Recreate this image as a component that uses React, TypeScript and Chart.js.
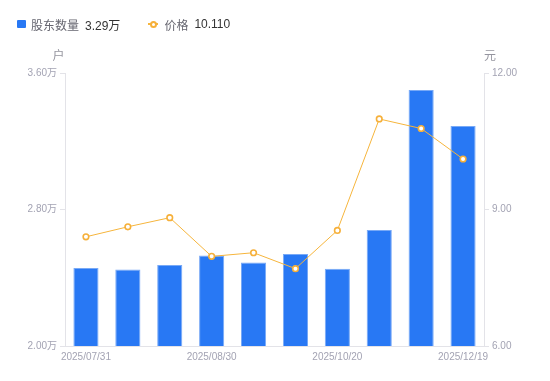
import React, { useEffect, useRef } from "react";
import { Chart, registerables } from "chart.js";

Chart.register(...registerables);

const categories = [
  "2025/07/31", "2025/08/10", "2025/08/20", "2025/08/30", "2025/09/10",
  "2025/09/30", "2025/10/20", "2025/10/31", "2025/11/30", "2025/12/19",
];
const holders = [2.457, 2.449, 2.475, 2.531, 2.49, 2.539, 2.453, 2.68, 3.5, 3.29];
const prices = [8.4, 8.62, 8.82, 7.97, 8.05, 7.7, 8.54, 10.99, 10.78, 10.11];
const leftTicks = [2.0, 2.8, 3.6];
const rightTicks = [6.0, 9.0, 12.0];
const legendHolder = "3.29万";
const legendPrice = "10.110";

const FONT = '"Liberation Sans", "Noto Sans CJK SC", sans-serif';
const TICK_COLOR = "#a3a3b3";
const AXIS_COLOR = "#e3e3e8";

export default function App() {
  const ref = useRef<HTMLCanvasElement | null>(null);

  useEffect(() => {
    if (!ref.current) return;
    const titles = {
      id: "axisTitles",
      afterDraw(chart: any) {
        const { ctx, chartArea } = chart;
        ctx.save();
        ctx.fillStyle = "#95959f";
        ctx.font = `12px ${FONT}`;
        ctx.textAlign = "center";
        ctx.textBaseline = "middle";
        ctx.fillText("户", chartArea.left - 6.5, chartArea.top - 16);
        ctx.fillText("元", chartArea.right + 6, chartArea.top - 16);
        ctx.restore();
      },
    };
    const chart = new Chart(ref.current, {
      type: "bar",
      data: {
        labels: categories,
        datasets: [
          {
            type: "line",
            label: "价格",
            data: prices,
            yAxisID: "y1",
            borderColor: "#f6b53c",
            borderWidth: 1,
            pointRadius: 2.8,
            pointBorderWidth: 1.6,
            pointBackgroundColor: "#ffffff",
            pointBorderColor: "#f6b03a",
            tension: 0,
            order: 0,
          } as any,
          {
            type: "bar",
            label: "股东数量",
            data: holders,
            yAxisID: "y",
            backgroundColor: "#2878f4",
            borderColor: "#78a9f6",
            borderWidth: { top: 1, left: 1, right: 1, bottom: 0 },
            barPercentage: 0.6,
            categoryPercentage: 1,
            order: 1,
          } as any,
        ],
      },
      options: {
        responsive: false,
        animation: false,
        layout: { padding: { top: 73, left: 0, right: 0, bottom: 0 } },
        plugins: { legend: { display: false }, tooltip: { enabled: false } },
        scales: {
          x: {
            grid: { display: false, drawTicks: false, tickLength: 0 },
            border: { display: true, color: AXIS_COLOR },
            ticks: {
              autoSkip: false,
              maxRotation: 0,
              padding: 5,
              color: TICK_COLOR,
              font: { family: FONT, size: 10 },
              callback: (_v: any, i: number) => (i % 3 === 0 ? categories[i] : ""),
            },
            afterFit: (s: any) => { s.height = 35; },
          },
          y: {
            position: "left",
            min: 2.0,
            max: 3.6,
            afterBuildTicks: (s: any) => { s.ticks = leftTicks.map((v) => ({ value: v })); },
            grid: { drawOnChartArea: false, drawTicks: true, tickLength: 5, color: AXIS_COLOR },
            border: { display: true, color: AXIS_COLOR },
            ticks: {
              padding: 3,
              color: TICK_COLOR,
              font: { family: FONT, size: 10 },
              callback: (v: any) => Number(v).toFixed(2) + "万",
            },
            afterFit: (s: any) => { s.width = 65; },
          },
          y1: {
            position: "right",
            min: 6,
            max: 12,
            afterBuildTicks: (s: any) => { s.ticks = rightTicks.map((v) => ({ value: v })); },
            grid: { drawOnChartArea: false, drawTicks: true, tickLength: 5, color: AXIS_COLOR },
            border: { display: true, color: AXIS_COLOR },
            ticks: {
              padding: 3,
              color: TICK_COLOR,
              font: { family: FONT, size: 10 },
              callback: (v: any) => Number(v).toFixed(2),
            },
            afterFit: (s: any) => { s.width = 66; },
          },
        },
      } as any,
      plugins: [titles],
    });
    return () => chart.destroy();
  }, []);

  const lbl: React.CSSProperties = { color: "#666670", marginRight: 6 };
  const val: React.CSSProperties = { color: "#333333" };

  return (
    <div style={{ position: "fixed", left: 0, top: 0, width: 550, height: 381, background: "#fff", fontFamily: FONT }}>
      <canvas ref={ref} width={550} height={381} style={{ position: "absolute", left: 0, top: 0 }} />
      <div style={{ position: "absolute", left: 17, top: 16, height: 16, display: "flex", alignItems: "center", fontSize: 12, whiteSpace: "nowrap" }}>
        <span style={{ display: "inline-block", width: 9, height: 8, background: "#2878f4", borderRadius: 1, marginRight: 5 }} />
        <span style={lbl}>股东数量</span>
        <span style={val}>{legendHolder}</span>
        <span style={{ display: "inline-block", position: "relative", width: 10, height: 8, marginLeft: 28, marginRight: 6 }}>
          <span style={{ position: "absolute", left: 0, top: 3, width: 10, height: 1.5, background: "#f6b53c" }} />
          <span style={{ position: "absolute", left: 1.5, top: 0.5, width: 3, height: 3, border: "2px solid #f6b03a", borderRadius: "50%", background: "#fff" }} />
        </span>
        <span style={lbl}>价格</span>
        <span style={val}>{legendPrice}</span>
      </div>
    </div>
  );
}
